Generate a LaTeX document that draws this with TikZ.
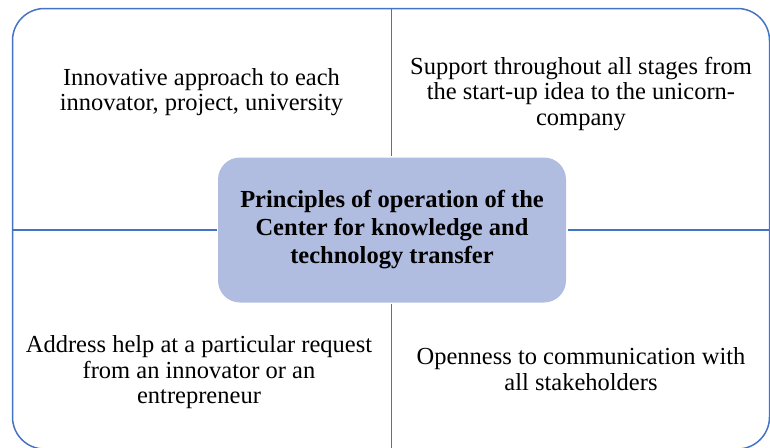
\documentclass[tikz,border=0pt]{standalone}
\usepackage{fontspec}
\setmainfont{Liberation Serif}
\definecolor{lineblue}{RGB}{68,114,196}
\definecolor{centerfill}{RGB}{176,189,224}
\begin{document}
\begin{tikzpicture}[x=1pt,y=-1pt,
  frame/.style={draw=lineblue,line width=1.5pt},
  divider/.style={draw=lineblue,line width=1.5pt},
  centerbox/.style={fill=centerfill,rounded corners=22pt,minimum width=348pt,minimum height=145pt,inner sep=0pt,outer sep=1.5pt,align=center,font=\fontsize{24.5}{26.5}\selectfont\bfseries},
  quad/.style={align=center,inner sep=0pt,font=\fontsize{24.5}{25.5}\selectfont}]
\useasboundingbox (0,0) rectangle (770,447);
\draw[frame,rounded corners=32pt] (12.5,8.5) rectangle (769.5,449);
\coordinate (top) at (391.5,8.5);
\coordinate (bot) at (391.5,449);
\coordinate (lft) at (12.5,230);
\coordinate (rgt) at (769.5,230);
\node[centerbox] (c) at (392,230) {\raisebox{-2pt}{\begin{tabular}{@{}c@{}}Principles of operation of the\\[1.5pt]Center for knowledge and\\[1.5pt]technology transfer\end{tabular}}};
\draw[divider] (top) -- (c.north -| top);
\draw[divider] (c.south -| bot) -- (bot);
\draw[divider] (lft) -- (c.west |- lft);
\draw[divider] (c.east |- rgt) -- (rgt);
\node[quad] (tl) at (201.5,92) {Innovative approach to each\\innovator, project, university};
\node[quad] (tr) at (581,94) {Support throughout all stages from\\the start-up idea to the unicorn-\\company};
\node[quad] (bl) at (199,372.5) {Address help at a particular request\\from an innovator or an\\entrepreneur};
\node[quad] (br) at (581,369) {Openness to communication with\\all stakeholders};
\end{tikzpicture}
\end{document}
